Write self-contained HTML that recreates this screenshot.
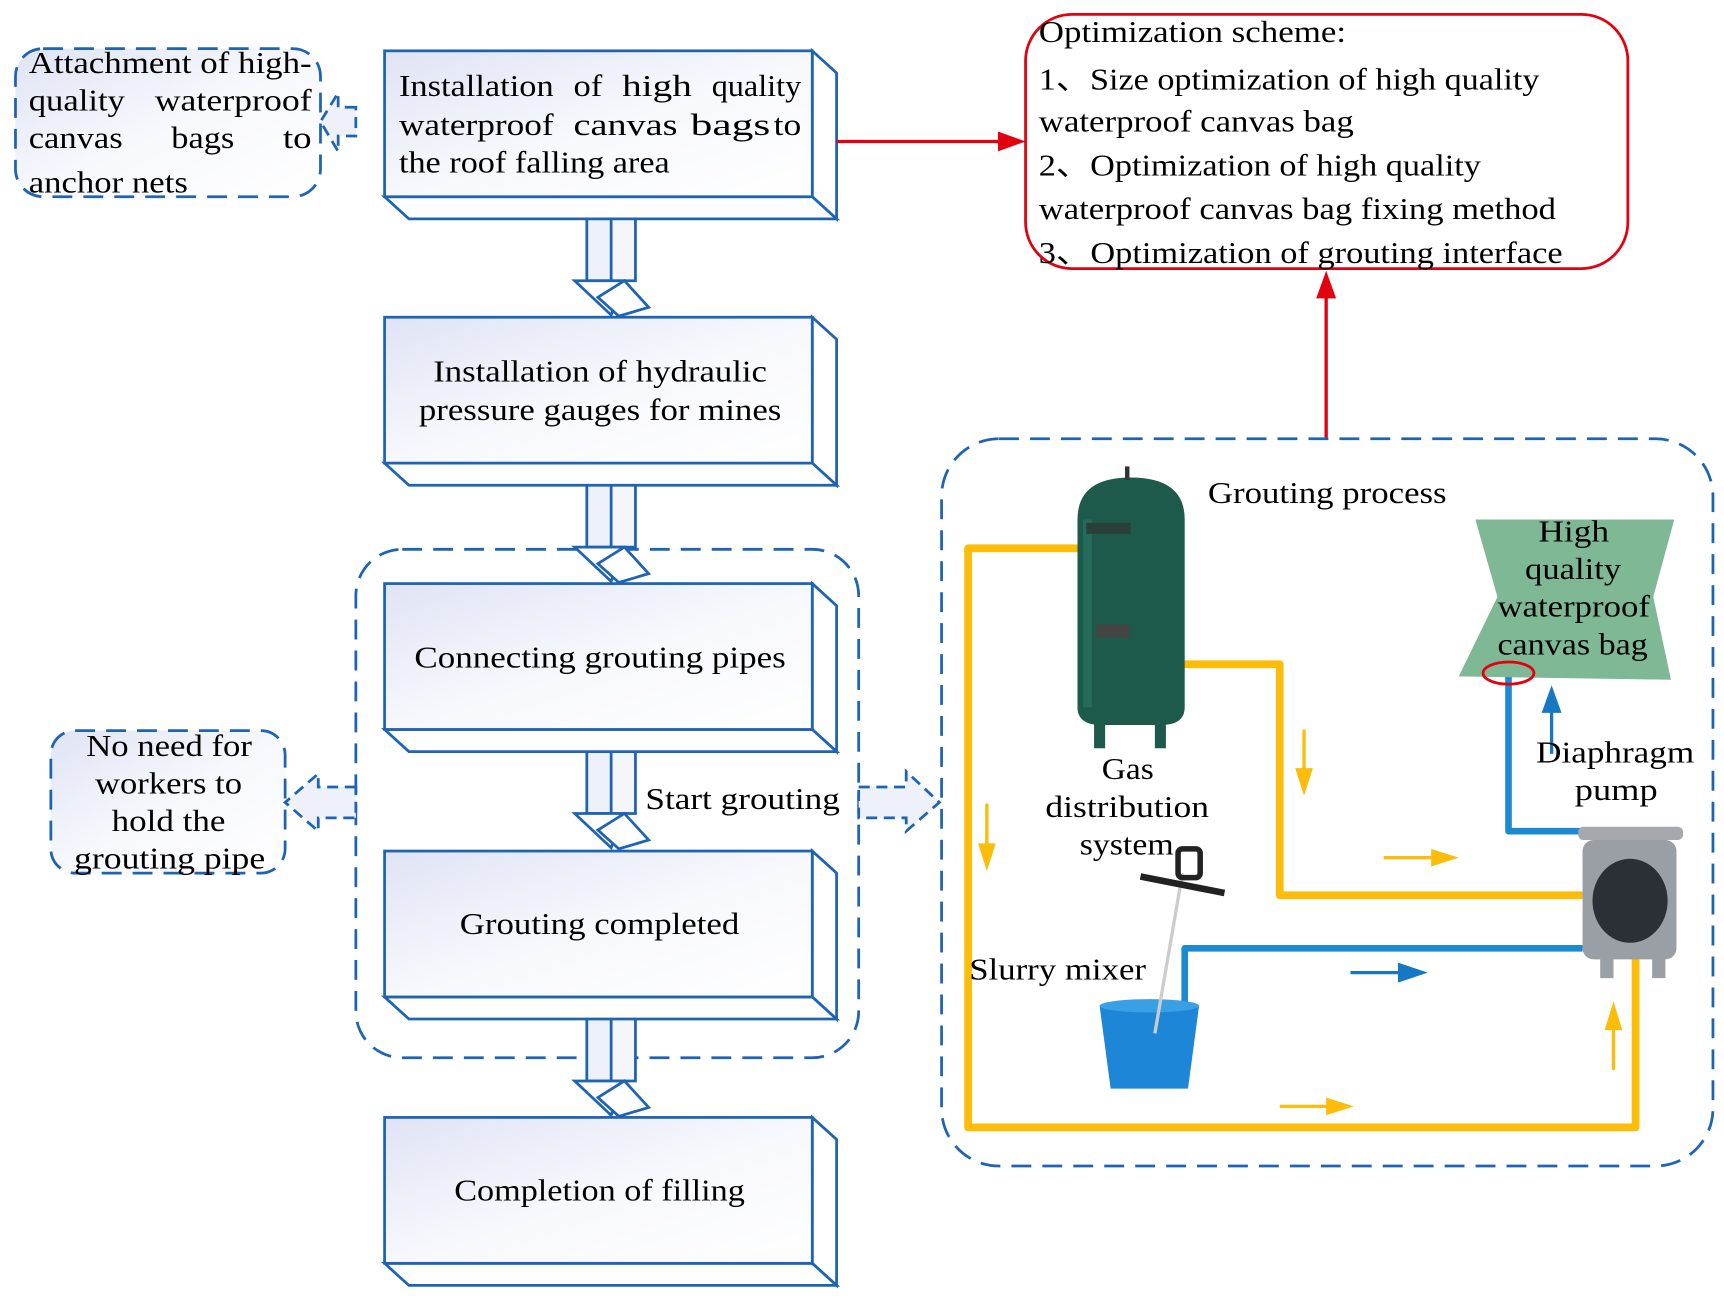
<!DOCTYPE html>
<html><head><meta charset="utf-8"><style>html,body{margin:0;padding:0;background:#fff}svg{display:block}</style></head>
<body>
<svg width="1724" height="1302" viewBox="0 0 1560 1178" preserveAspectRatio="none" xmlns="http://www.w3.org/2000/svg" font-family="'Liberation Serif', serif" font-size="28">
<defs>
<linearGradient id="g" x1="0" y1="0" x2="1" y2="1"><stop offset="0" stop-color="#dfe3f4"/><stop offset="0.5" stop-color="#f7f8fd"/><stop offset="1" stop-color="#ffffff"/></linearGradient>
<g id="box">
<polygon points="387,0 409,20 409,152 387,132" fill="#fff" stroke="#1f63b4" stroke-width="2.5"/>
<polygon points="0,132 387,132 409,152 22,152" fill="#fff" stroke="#1f63b4" stroke-width="2.5"/>
<rect x="0" y="0" width="387" height="132" fill="url(#g)" stroke="#1f63b4" stroke-width="2.5"/>
</g>
<g id="arr">
<polygon points="553,0 575,20 575,76 553,76" fill="#f4f6fc" stroke="#1f63b4" stroke-width="2.5"/>
<rect x="531" y="0" width="22" height="76" fill="#eef1fa" stroke="#1f63b4" stroke-width="2.5"/>
<polygon points="520,76 565,76 553,107" fill="#fff" stroke="#1f63b4" stroke-width="2.5"/>
<polygon points="541,91 565,76 587,100 560,108" fill="#fff" stroke="#1f63b4" stroke-width="2.5"/>
</g>
</defs>
<rect width="1560" height="1178" fill="#fff"/>

<rect x="322" y="497" width="455" height="460" rx="42" fill="none" stroke="#1f63b4" stroke-width="2.5" stroke-dasharray="18,10"/>

<use href="#arr" y="178"/>
<use href="#arr" y="419"/>
<use href="#arr" y="660"/>
<use href="#arr" y="902"/>

<use href="#box" x="348" y="46"/>
<use href="#box" x="348" y="287"/>
<use href="#box" x="348" y="528"/>
<use href="#box" x="348" y="770"/>
<use href="#box" x="348" y="1011"/>

<g fill="#000" lengthAdjust="spacingAndGlyphs">
<text x="361" y="87" textLength="140" lengthAdjust="spacingAndGlyphs">Installation</text>
<text x="519" y="87" textLength="26" lengthAdjust="spacingAndGlyphs">of</text>
<text x="563" y="87" textLength="63" lengthAdjust="spacingAndGlyphs">high</text>
<text x="644" y="87" textLength="81" lengthAdjust="spacingAndGlyphs">quality</text>
<text x="361" y="122" textLength="140" lengthAdjust="spacingAndGlyphs">waterproof</text>
<text x="519" y="122" textLength="94" lengthAdjust="spacingAndGlyphs">canvas</text>
<text x="625" y="122" textLength="72" lengthAdjust="spacingAndGlyphs">bags</text>
<text x="700" y="122" textLength="25" lengthAdjust="spacingAndGlyphs">to</text>
<text x="361" y="156" textLength="245" lengthAdjust="spacingAndGlyphs">the roof falling area</text>
<text x="392" y="345" textLength="302" lengthAdjust="spacingAndGlyphs">Installation of hydraulic</text>
<text x="379" y="380" textLength="328" lengthAdjust="spacingAndGlyphs">pressure gauges for mines</text>
<text x="375" y="604" textLength="336" lengthAdjust="spacingAndGlyphs">Connecting grouting pipes</text>
<text x="416" y="845" textLength="253" lengthAdjust="spacingAndGlyphs">Grouting completed</text>
<text x="411" y="1086" textLength="263" lengthAdjust="spacingAndGlyphs">Completion of filling</text>
<text x="584" y="732" textLength="176" lengthAdjust="spacingAndGlyphs">Start grouting</text>
</g>

<rect x="14" y="44" width="276" height="134" rx="25" fill="url(#g)" stroke="#1f63b4" stroke-width="2.5" stroke-dasharray="18,10"/>
<g>
<text x="26" y="66" textLength="256" lengthAdjust="spacingAndGlyphs">Attachment of high-</text>
<text x="26" y="100" textLength="87" lengthAdjust="spacingAndGlyphs">quality</text>
<text x="140" y="100" textLength="142" lengthAdjust="spacingAndGlyphs">waterproof</text>
<text x="26" y="134" textLength="85" lengthAdjust="spacingAndGlyphs">canvas</text>
<text x="155" y="134" textLength="57" lengthAdjust="spacingAndGlyphs">bags</text>
<text x="256" y="134" textLength="26" lengthAdjust="spacingAndGlyphs">to</text>
<text x="26" y="174" textLength="144" lengthAdjust="spacingAndGlyphs">anchor nets</text>
</g>
<rect x="46" y="661" width="212" height="129" rx="22" fill="url(#g)" stroke="#1f63b4" stroke-width="2.5" stroke-dasharray="18,10"/>
<g>
<text x="78" y="684" textLength="150" lengthAdjust="spacingAndGlyphs">No need for</text>
<text x="86" y="718" textLength="133" lengthAdjust="spacingAndGlyphs">workers to</text>
<text x="101" y="752" textLength="103" lengthAdjust="spacingAndGlyphs">hold the</text>
<text x="67" y="786" textLength="173" lengthAdjust="spacingAndGlyphs">grouting pipe</text>
</g>

<polygon points="322,97 306,97 306,84 290,110 306,137 306,123 322,123" fill="#eef1fa" stroke="#1f63b4" stroke-width="2.5" stroke-dasharray="10,6"/>
<polygon points="322,712 288,712 288,700 258,726 288,752 288,740 322,740" fill="#eef1fa" stroke="#1f63b4" stroke-width="2.5" stroke-dasharray="10,6"/>
<polygon points="777,712 820,712 820,698 850,726 820,752 820,740 777,740" fill="#eef1fa" stroke="#1f63b4" stroke-width="2.5" stroke-dasharray="10,6"/>

<rect x="928" y="13" width="545" height="230" rx="42" fill="none" stroke="#e3000f" stroke-width="2.5"/>
<line x1="757" y1="128" x2="905" y2="128" stroke="#e3000f" stroke-width="3"/>
<polygon points="903,119 928,128 903,137" fill="#e3000f"/>
<line x1="1200" y1="397" x2="1200" y2="268" stroke="#e3000f" stroke-width="3"/>
<polygon points="1191,270 1200,245 1209,270" fill="#e3000f"/>
<g>
<text x="940" y="38" textLength="278" lengthAdjust="spacingAndGlyphs">Optimization scheme:</text>
<text x="940" y="81" textLength="453" lengthAdjust="spacingAndGlyphs">1、Size optimization of high quality</text>
<text x="940" y="119" textLength="285" lengthAdjust="spacingAndGlyphs">waterproof canvas bag</text>
<text x="940" y="159" textLength="400" lengthAdjust="spacingAndGlyphs">2、Optimization of high quality</text>
<text x="940" y="198" textLength="468" lengthAdjust="spacingAndGlyphs">waterproof canvas bag fixing method</text>
<text x="940" y="238" textLength="474" lengthAdjust="spacingAndGlyphs">3、Optimization of grouting interface</text>
</g>

<rect x="852" y="397" width="698" height="658" rx="52" fill="none" stroke="#1f63b4" stroke-width="2.5" stroke-dasharray="18,10"/>

<g fill="none" stroke="#fcbc0a" stroke-width="7" stroke-linejoin="round">
<polyline points="1070,601 1158,601 1158,810 1432,810"/>
<polyline points="978,496 876,496 876,1020 1480,1020 1480,862"/>
</g>
<g fill="none" stroke="#1b8ad0" stroke-width="6" stroke-linejoin="round">
<polyline points="1072,908 1072,858 1432,858"/>
<polyline points="1365,610 1365,752 1432,752"/>
</g>

<path d="M975,470 Q975,432 1023,432 Q1072,432 1072,470 L1072,640 Q1072,656 1050,656 L997,656 Q975,656 975,640 Z" fill="#1d5a4c"/>
<rect x="980" y="470" width="8" height="170" fill="#2b7766" opacity=".6"/>
<rect x="990" y="645" width="10" height="32" fill="#1d5a4c"/>
<rect x="1045" y="645" width="10" height="32" fill="#1d5a4c"/>
<rect x="1018" y="422" width="4" height="12" fill="#333"/>
<rect x="983" y="473" width="40" height="10" fill="#2a3f3a"/>
<rect x="992" y="565" width="30" height="12" fill="#444"/>

<polygon points="1335,470 1515,470 1496,540 1512,615 1320,612 1355,540" fill="#7fb894"/>
<ellipse cx="1365" cy="609" rx="23" ry="10" fill="none" stroke="#e3000f" stroke-width="2.5"/>
<g>
<text x="1392" y="490" textLength="64" lengthAdjust="spacingAndGlyphs">High</text>
<text x="1380" y="524" textLength="87" lengthAdjust="spacingAndGlyphs">quality</text>
<text x="1355" y="558" textLength="138" lengthAdjust="spacingAndGlyphs">waterproof</text>
<text x="1355" y="592" textLength="136" lengthAdjust="spacingAndGlyphs">canvas bag</text>
</g>

<rect x="1428" y="748" width="95" height="12" rx="5" fill="#a5a9ad"/>
<rect x="1432" y="760" width="85" height="108" rx="10" fill="#9a9fa5"/>
<ellipse cx="1475" cy="815" rx="34" ry="38" fill="#2b2f36"/>
<rect x="1448" y="865" width="12" height="20" fill="#9a9fa5"/>
<rect x="1495" y="865" width="12" height="20" fill="#9a9fa5"/>

<polygon points="995,910 1085,910 1075,985 1005,985" fill="#1e86d6"/>
<ellipse cx="1040" cy="910" rx="45" ry="6" fill="#3aa0e6"/>
<line x1="1070" y1="790" x2="1045" y2="935" stroke="#ccc" stroke-width="3"/>
<line x1="1032" y1="793" x2="1108" y2="808" stroke="#222" stroke-width="6"/>
<rect x="1066" y="768" width="20" height="26" rx="4" fill="none" stroke="#222" stroke-width="5"/>

<g stroke-width="3">
<line x1="1180" y1="660" x2="1180" y2="700" stroke="#fcbc0a"/><polygon points="1172,695 1188,695 1180,720" fill="#fcbc0a"/>
<line x1="893" y1="727" x2="893" y2="768" stroke="#fcbc0a"/><polygon points="885,763 901,763 893,788" fill="#fcbc0a"/>
<line x1="1252" y1="776" x2="1300" y2="776" stroke="#fcbc0a"/><polygon points="1295,768 1320,776 1295,784" fill="#fcbc0a"/>
<line x1="1158" y1="1001" x2="1205" y2="1001" stroke="#fcbc0a"/><polygon points="1200,993 1225,1001 1200,1009" fill="#fcbc0a"/>
<line x1="1460" y1="968" x2="1460" y2="928" stroke="#fcbc0a"/><polygon points="1452,932 1468,932 1460,906" fill="#fcbc0a"/>
<line x1="1222" y1="880" x2="1270" y2="880" stroke="#1678c2"/><polygon points="1265,871 1292,880 1265,889" fill="#1678c2"/>
<line x1="1404" y1="682" x2="1404" y2="640" stroke="#1678c2"/><polygon points="1395,645 1413,645 1404,620" fill="#1678c2"/>
</g>

<g>
<text x="1093" y="455" textLength="216" lengthAdjust="spacingAndGlyphs">Grouting process</text>
<text x="997" y="705" textLength="47" lengthAdjust="spacingAndGlyphs">Gas</text>
<text x="946" y="739" textLength="148" lengthAdjust="spacingAndGlyphs">distribution</text>
<text x="977" y="773" textLength="85" lengthAdjust="spacingAndGlyphs">system</text>
<text x="877" y="886" textLength="160" lengthAdjust="spacingAndGlyphs">Slurry mixer</text>
<text x="1390" y="690" textLength="143" lengthAdjust="spacingAndGlyphs">Diaphragm</text>
<text x="1425" y="724" textLength="75" lengthAdjust="spacingAndGlyphs">pump</text>
</g>
</svg>
</body></html>
